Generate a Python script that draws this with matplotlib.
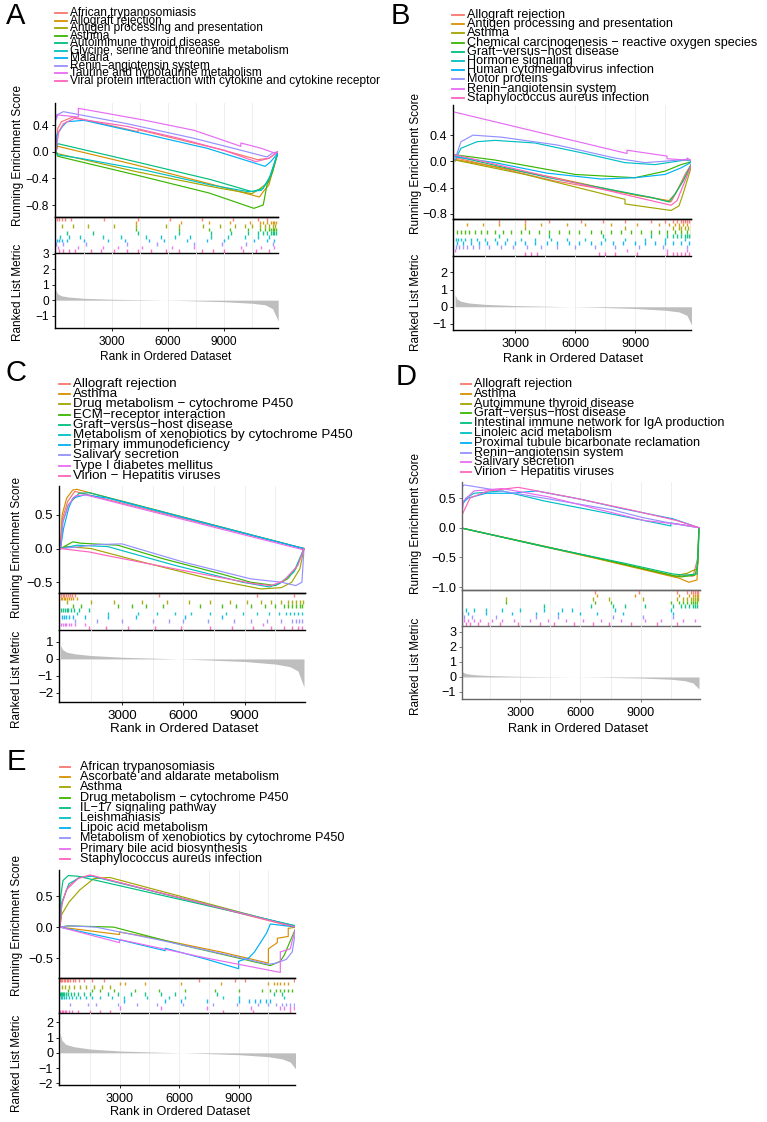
import numpy as np
import matplotlib
matplotlib.use("Agg")
from matplotlib import pyplot as plt
from matplotlib.lines import Line2D

plt.rcParams['font.family'] = ['Liberation Sans', 'DejaVu Sans']

W, H = 767, 1122
colors = ["#F8766D", "#D89000", "#A3A500", "#39B600", "#00BF7D",
          "#00BFC4", "#00B0F6", "#9590FF", "#E76BF3", "#FF62BC"]

# ---------------- panel A ----------------
terms_A = ["African trypanosomiasis", "Allograft rejection",
           "Antigen processing and presentation", "Asthma",
           "Autoimmune thyroid disease",
           "Glycine, serine and threonine metabolism", "Malaria",
           "Renin\u2212angiotensin system", "Taurine and hypotaurine metabolism",
           "Viral protein interaction with cytokine and cytokine receptor"]
es_A = [
    [(0, 0), (100, 0.35), (300, 0.45), (900, 0.52), (4400, 0.3), (4400, 0.33), (9000, 0.02), (10800, -0.12), (11400, -0.1), (11900, 0)],
    [(0, 0), (100, 0.08), (4300, -0.2), (8200, -0.48), (10900, -0.68), (11100, -0.6), (11400, -0.5), (11700, -0.2), (11900, 0)],
    [(0, 0), (100, -0.03), (4300, -0.3), (8800, -0.55), (10500, -0.63), (10900, -0.56), (11400, -0.45), (11900, 0)],
    [(0, 0), (100, -0.07), (4300, -0.35), (8200, -0.62), (10600, -0.85), (11100, -0.8), (11300, -0.5), (11600, -0.3), (11900, 0)],
    [(0, 0), (100, 0.12), (4400, -0.16), (8300, -0.42), (10500, -0.6), (11100, -0.55), (11500, -0.35), (11900, 0)],
    [(0, 0), (100, -0.05), (1300, -0.1), (4800, -0.28), (8300, -0.5), (10300, -0.6), (11000, -0.58), (11400, -0.42), (11900, 0)],
    [(0, 0), (50, 0.25), (350, 0.38), (600, 0.45), (1500, 0.47), (5000, 0.25), (8100, 0.05), (11200, -0.22), (11500, -0.15), (11800, -0.05), (11900, 0)],
    [(0, 0.5), (30, 0.55), (400, 0.6), (3800, 0.42), (7400, 0.2), (10200, 0.0), (11300, -0.08), (11600, -0.02), (11900, 0)],
    [(0, 0.48), (100, 0.55), (1200, 0.52), (1200, 0.65), (4600, 0.48), (7400, 0.32), (9900, 0.08), (9900, 0.13), (11000, 0.05), (11700, -0.02), (11900, 0)],
    [(0, 0), (150, 0.3), (400, 0.42), (1000, 0.5), (3800, 0.38), (6600, 0.2), (9000, 0.02), (10000, -0.08), (10700, -0.15), (11400, -0.1), (11900, 0)],
]
hits_A = [
    [60, 150, 300, 500, 800, 2600, 4400, 6100, 7800, 9500, 10800, 11300],
    [4300, 6700, 8200, 9300, 10400, 10900, 11100, 11300, 11500, 11600, 11700, 11800],
    [300, 900, 1700, 3100, 4300, 5900, 6600, 7900, 8800, 9600, 10100, 10500, 10900, 11200, 11400, 11600, 11750],
    [4300, 6600, 8200, 9300, 10300, 10900, 11200, 11400, 11500, 11600, 11700, 11800],
    [600, 2000, 4400, 6600, 8300, 9400, 10300, 10800, 11100, 11300, 11500, 11600, 11700, 11800],
    [200, 700, 1300, 2500, 3500, 4800, 5600, 6400, 7200, 8300, 9200, 10100, 10800, 11400],
    [50, 150, 350, 600, 1500, 2800, 3700, 5000, 5800, 7000, 8100, 9000, 10600, 11300, 11700],
    [30, 400, 1600, 3800, 5400, 7400, 8900, 10200, 11600],
    [100, 1200, 2500, 3300, 4600, 6200, 7400, 9900, 11000, 11700],
    [150, 400, 700, 1000, 1900, 2400, 3100, 3800, 4400, 5100, 5900, 6600, 7800, 8400, 9000, 10000, 10700, 11400],
]

# ---------------- panel B ----------------
terms_B = ["Allograft rejection", "Antigen processing and presentation", "Asthma",
           "Chemical carcinogenesis \u2212 reactive oxygen species",
           "Graft\u2212versus\u2212host disease", "Hormone signaling",
           "Human cytomegalovirus infection", "Motor proteins",
           "Renin\u2212angiotensin system", "Staphylococcus aureus infection"]
es_B = [
    [(0, 0), (100, 0.05), (5000, -0.3), (9800, -0.55), (10800, -0.62), (11100, -0.45), (11500, -0.2), (11900, 0)],
    [(0, 0.03), (5000, -0.25), (9100, -0.52), (10700, -0.6), (11000, -0.5), (11400, -0.3), (11900, 0)],
    [(0, 0.02), (3500, -0.2), (8500, -0.58), (8500, -0.65), (10800, -0.75), (11200, -0.68), (11400, -0.5), (11900, 0)],
    [(0, 0.1), (2000, 0.02), (6000, -0.2), (9000, -0.25), (10500, -0.15), (11300, -0.05), (11900, 0)],
    [(0, 0.08), (4700, -0.25), (9800, -0.55), (10700, -0.62), (11000, -0.5), (11400, -0.3), (11900, 0)],
    [(0, 0.02), (300, 0.2), (1100, 0.3), (2000, 0.32), (4000, 0.28), (6500, 0.12), (8500, -0.02), (10000, -0.05), (11500, 0.02), (11900, 0)],
    [(0, 0.07), (2000, -0.02), (4600, -0.18), (7300, -0.27), (9000, -0.25), (10500, -0.2), (11300, -0.1), (11900, 0)],
    [(0, 0.03), (300, 0.3), (900, 0.4), (2300, 0.37), (5100, 0.25), (8000, 0.05), (9500, -0.02), (10400, 0.0), (11600, 0.03), (11900, 0)],
    [(0, 0.75), (8600, 0.12), (8600, 0.17), (10600, 0.08), (10600, 0.04), (11600, 0.02), (11600, 0.05), (11900, 0)],
    [(0, 0.1), (3500, -0.15), (9100, -0.55), (10800, -0.67), (11100, -0.6), (11500, -0.3), (11900, 0)],
]
hits_B = [
    [2200, 3500, 4700, 6300, 7400, 8500, 9800, 10500, 10900, 11100, 11300, 11400, 11500, 11600, 11700, 11800],
    [600, 1400, 2200, 3500, 4300, 5600, 6500, 7800, 9100, 10200, 10700, 11000, 11200, 11400, 11600, 11800],
    [3500, 8500, 10900, 11200, 11300, 11500, 11650, 11800],
    [100, 300, 500, 700, 1000, 1300, 1600, 2000, 2400, 2800, 3300, 3700, 4200, 4700, 5200, 5700, 6200, 6800, 7300, 7800, 8300, 8800, 9300, 9800, 10200, 10600, 11000, 11300, 11600, 11800],
    [2200, 4700, 7400, 9800, 10600, 10900, 11100, 11300, 11500, 11600, 11700, 11800],
    [50, 150, 300, 500, 800, 1100, 1500, 2000, 2600, 3300, 4000, 4800, 5600, 6500, 7500, 8500, 9500, 10500, 11500],
    [100, 400, 800, 1200, 1600, 2100, 2500, 3000, 3500, 4000, 4600, 5100, 5700, 6200, 6800, 7300, 7900, 8400, 9000, 9500, 10000, 10500, 10900, 11300, 11700],
    [50, 200, 400, 600, 900, 1200, 1700, 2300, 2900, 3600, 4300, 5100, 6000, 7000, 8000, 9200, 10400, 11600],
    [20, 8600, 10600, 11600],
    [3500, 3800, 4100, 7200, 7500, 8000, 9100, 10600, 10900, 11100, 11300, 11500, 11700, 11850],
]

# ---------------- panel C ----------------
terms_C = ["Allograft rejection", "Asthma", "Drug metabolism \u2212 cytochrome P450",
           "ECM\u2212receptor interaction", "Graft\u2212versus\u2212host disease",
           "Metabolism of xenobiotics by cytochrome P450",
           "Primary immunodeficiency", "Salivary secretion",
           "Type I diabetes mellitus", "Virion \u2212 Hepatitis viruses"]
es_C = [
    [(0, 0), (100, 0.45), (350, 0.7), (700, 0.85), (11900, 0)],
    [(0, 0), (80, 0.5), (300, 0.75), (600, 0.87), (800, 0.88), (11900, 0)],
    [(0, 0), (300, 0.03), (1500, 0.0), (4000, -0.2), (7300, -0.45), (9800, -0.6), (10800, -0.58), (11300, -0.5), (11700, -0.3), (11900, 0)],
    [(0, 0), (600, 0.1), (1000, 0.08), (2800, 0.05), (5000, -0.15), (7900, -0.38), (9300, -0.5), (10500, -0.55), (11100, -0.45), (11500, -0.3), (11900, 0)],
    [(0, 0), (120, 0.4), (380, 0.65), (900, 0.82), (1400, 0.83), (11900, 0)],
    [(0, 0), (800, 0.05), (2300, 0.03), (5600, -0.25), (8900, -0.5), (10200, -0.57), (10700, -0.52), (11400, -0.35), (11900, 0)],
    [(0, 0), (150, 0.3), (400, 0.6), (600, 0.75), (1200, 0.8), (2300, 0.75), (11900, 0)],
    [(0, 0), (700, 0.02), (1800, 0.06), (3000, 0.07), (6000, -0.2), (9300, -0.45), (10800, -0.5), (11500, -0.55), (11800, -0.5), (11900, 0)],
    [(0, 0), (110, 0.4), (400, 0.65), (700, 0.78), (1200, 0.8), (11900, -0.02)],
    [(0, 0), (1400, -0.05), (2200, -0.1), (5900, -0.32), (9400, -0.52), (10300, -0.55), (10900, -0.48), (11600, -0.25), (11900, 0)],
]
hits_C = [
    [30, 100, 180, 250, 350, 450, 550, 700, 4800, 9600, 11400],
    [20, 80, 150, 220, 300, 400, 500, 600, 800],
    [300, 1500, 2600, 4000, 5200, 6300, 7300, 8300, 9100, 9800, 10300, 10800, 11100, 11300, 11500, 11700, 11850],
    [600, 1000, 2800, 3500, 4200, 5000, 6800, 7900, 8600, 9300, 10000, 10500, 10900, 11100, 11300, 11500, 11700, 11800],
    [40, 120, 200, 300, 380, 500, 650, 900, 1400],
    [800, 2300, 3800, 4700, 5600, 6400, 7300, 8100, 8900, 9600, 10200, 10700, 11000, 11200, 11400, 11600, 11800],
    [50, 150, 260, 400, 600, 1200, 2300, 3700, 6100, 7900],
    [700, 1800, 3000, 4500, 5300, 6000, 7200, 8500, 9300, 10100, 10800, 11300, 11500, 11650, 11800],
    [30, 110, 200, 290, 400, 520, 700, 1200, 9900],
    [1400, 2200, 3300, 4600, 5900, 7300, 8400, 9400, 10300, 10900, 11300, 11600, 11800],
]

# ---------------- panel D ----------------
terms_D = ["Allograft rejection", "Asthma", "Autoimmune thyroid disease",
           "Graft\u2212versus\u2212host disease",
           "Intestinal immune network for IgA production",
           "Linoleic acid metabolism", "Proximal tubule bicarbonate reclamation",
           "Renin\u2212angiotensin system", "Salivary secretion",
           "Virion \u2212 Hepatitis viruses"]
es_D = [
    [(0, 0), (6700, -0.5), (10800, -0.83), (11300, -0.8), (11600, -0.82), (11850, -0.5), (11900, 0)],
    [(0, 0), (6800, -0.52), (10900, -0.85), (11400, -0.92), (11800, -0.88), (11850, -0.5), (11900, 0)],
    [(0, 0), (6600, -0.5), (10800, -0.82), (11100, -0.78), (11300, -0.77), (11600, -0.72), (11800, -0.7), (11900, 0)],
    [(0, 0), (6700, -0.5), (10500, -0.8), (11000, -0.83), (11700, -0.8), (11850, -0.6), (11900, 0)],
    [(0, 0), (4200, -0.32), (8200, -0.6), (10600, -0.78), (11200, -0.8), (11800, -0.78), (11900, 0)],
    [(0, 0), (60, 0.35), (300, 0.5), (700, 0.58), (2100, 0.62), (4200, 0.45), (7700, 0.22), (10500, 0.03), (10500, 0.08), (11900, 0)],
    [(0, 0), (100, 0.4), (400, 0.5), (1300, 0.58), (2600, 0.58), (3800, 0.62), (6000, 0.48), (8100, 0.32), (10600, 0.15), (11900, 0)],
    [(0, 0.65), (200, 0.72), (600, 0.7), (3800, 0.52), (7600, 0.3), (9100, 0.17), (10600, 0.07), (11900, 0)],
    [(0, 0), (180, 0.45), (700, 0.62), (2100, 0.66), (4400, 0.52), (7000, 0.3), (9200, 0.12), (11100, 0.05), (11900, 0)],
    [(0, 0), (80, 0.2), (500, 0.5), (1400, 0.62), (2900, 0.68), (5700, 0.5), (8500, 0.3), (10800, 0.12), (11900, 0)],
]
hits_D = [
    [6700, 8900, 10800, 11300, 11500, 11600, 11700, 11800, 11850],
    [6800, 8700, 10900, 11400, 11600, 11700, 11800, 11850],
    [2300, 6600, 7400, 9100, 10800, 11100, 11300, 11500, 11600, 11700, 11800, 11850],
    [2300, 6700, 7500, 10500, 10900, 11100, 11300, 11500, 11600, 11700, 11800],
    [4200, 6500, 7600, 8200, 9200, 10600, 11000, 11200, 11400, 11600, 11700, 11800],
    [60, 300, 700, 1300, 2100, 3000, 4200, 5100, 5600, 7700, 10500],
    [100, 400, 1300, 2600, 3800, 4900, 6000, 6800, 8100, 10600],
    [20, 200, 600, 1800, 3800, 4900, 7600, 9100, 10600],
    [50, 180, 400, 700, 1000, 1600, 2100, 2700, 3500, 4400, 5300, 6100, 7000, 8000, 9200, 10000, 11100, 11700],
    [80, 300, 500, 900, 1400, 2000, 2900, 4000, 4700, 5700, 6600, 7400, 8500, 9800, 10800],
]

# ---------------- panel E ----------------
terms_E = ["African trypanosomiasis", "Ascorbate and aldarate metabolism", "Asthma",
           "Drug metabolism \u2212 cytochrome P450", "IL\u221217 signaling pathway",
           "Leishmaniasis", "Lipoic acid metabolism",
           "Metabolism of xenobiotics by cytochrome P450",
           "Primary bile acid biosynthesis", "Staphylococcus aureus infection"]
es_E = [
    [(0, 0), (100, 0.4), (400, 0.65), (950, 0.8), (1600, 0.83), (11800, 0.0), (11900, 0)],
    [(0, 0), (3000, -0.12), (3000, -0.08), (4300, -0.15), (8100, -0.4), (10500, -0.58), (10500, -0.35), (10950, -0.25), (10950, -0.18), (11500, -0.15), (11500, -0.02), (11900, 0)],
    [(0, 0), (80, 0.2), (450, 0.4), (1000, 0.6), (1700, 0.78), (2500, 0.8), (11900, 0)],
    [(0, 0), (400, 0.02), (2700, 0.0), (6300, -0.3), (9000, -0.5), (10600, -0.62), (11100, -0.55), (11300, -0.45), (11500, -0.3), (11900, 0)],
    [(0, 0), (40, 0.5), (150, 0.75), (420, 0.83), (900, 0.82), (11900, 0.02)],
    [(0, 0), (100, 0.4), (450, 0.7), (1000, 0.8), (1600, 0.82), (11800, 0.02), (11900, 0)],
    [(0, 0), (3200, -0.22), (5300, -0.38), (5300, -0.34), (7400, -0.52), (9000, -0.67), (9000, -0.55), (9500, -0.5), (9800, -0.4), (10100, -0.25), (10400, -0.1), (10600, 0.05), (11900, 0)],
    [(0, 0), (500, 0.02), (1800, 0.0), (4900, -0.2), (8900, -0.48), (10500, -0.6), (10900, -0.58), (11400, -0.52), (11700, -0.4), (11900, 0)],
    [(0, 0), (3000, -0.25), (3000, -0.2), (7400, -0.5), (11100, -0.73), (11100, -0.4), (11600, -0.35), (11800, -0.1), (11900, 0)],
    [(0, 0), (80, 0.35), (320, 0.6), (900, 0.78), (1500, 0.84), (11900, 0)],
]
hits_E = [
    [20, 60, 120, 180, 250, 330, 420, 520, 640, 780, 950, 1200, 1600, 2200, 7000, 8800, 9300, 11800],
    [3000, 3300, 4300, 6100, 8100, 10500, 10800, 10950, 11100, 11300, 11500],
    [80, 250, 450, 700, 1000, 1300, 1700, 2100, 2500],
    [400, 1600, 2000, 2700, 3800, 5000, 6300, 7800, 9000, 10200, 10600, 10900, 11100, 11300, 11500, 11700],
    [10, 40, 80, 150, 220, 300, 420, 560, 700, 900, 1200, 1500, 2400, 2900, 3600, 4300, 5100, 5800, 7900, 10800, 11200],
    [30, 100, 200, 300, 450, 600, 800, 1000, 1300, 1600, 2000, 2600, 3200, 4400, 5500, 6300, 8200, 9000, 11300],
    [3200, 5300, 6100, 7400, 9000, 9500, 9800, 10100, 10400, 10600],
    [500, 1400, 1800, 2900, 3900, 4900, 6200, 7700, 8900, 10000, 10500, 10900, 11200, 11400, 11600, 11800],
    [3000, 5100, 7400, 9600, 11100, 11300, 11600, 11800],
    [20, 80, 150, 230, 320, 450, 600, 900, 1500, 2000, 2500, 8200, 9700, 11600],
]

rank_x = [0, 100, 300, 700, 1500, 3000, 5000, 7000, 9000, 10500, 11200, 11600, 11900]
metric_A = [0.65, 0.4, 0.28, 0.2, 0.12, 0.06, 0.02, -0.03, -0.1, -0.2, -0.3, -0.55, -1.35]
metric_B = [0.7, 0.45, 0.32, 0.22, 0.14, 0.07, 0.02, -0.03, -0.1, -0.2, -0.3, -0.5, -1.25]
metric_C = [0.8, 0.55, 0.4, 0.3, 0.2, 0.1, 0.03, -0.05, -0.15, -0.3, -0.45, -0.7, -1.65]
metric_D = [0.65, 0.35, 0.22, 0.15, 0.09, 0.04, 0.01, -0.02, -0.07, -0.15, -0.25, -0.4, -0.8]
metric_E = [1.3, 0.8, 0.55, 0.4, 0.25, 0.12, 0.04, -0.03, -0.12, -0.25, -0.4, -0.6, -1.1]

fig = plt.figure(figsize=(W / 100, H / 100), dpi=100)


def box(l, t, r, b):
    return fig.add_axes([l / W, 1 - b / H, (r - l) / W, (b - t) / H])


def fx(x):
    return x / W


def fy(y):
    return 1 - y / H


def tick_text(v, nd):
    s = f"{abs(v):.{nd}f}"
    return ("\u2212" + s) if v < 0 else s


def gsea_panel(letter, terms, es, hits, metric, lay):
    sc = lay.get("spine", "black")
    fs = lay["fs"]
    yfs = lay["yfs"]
    # panel letter
    fig.text(fx(lay["lab"][0]), fy(lay["lab"][1]), letter, fontsize=21,
             ha="center", va="center")
    # legend
    hx0, hx1, tx = lay["leg_x"]
    for i, name in enumerate(terms):
        yy = lay["leg_y"] + i * lay["leg_dy"]
        fig.add_artist(Line2D([fx(hx0), fx(hx1)], [fy(yy), fy(yy)],
                              color=colors[i], lw=1.3,
                              transform=fig.transFigure))
        fig.text(fx(tx), fy(yy), name, fontsize=fs, va="center", ha="left")

    l, r = lay["left"], lay["right"]
    t, b1, b2, b3 = lay["top"], lay["es_bot"], lay["rug_bot"], lay["rank_bot"]
    grid = np.arange(1500, 12000, 1500)

    # running enrichment score
    ax1 = box(l, t, r, b1)
    for g in grid:
        ax1.axvline(g, color="#ebebeb", lw=0.6, zorder=0)
    for i, pts in enumerate(es):
        xs = [p[0] for p in pts]
        ys = [p[1] for p in pts]
        ax1.plot(xs, ys, color=colors[i], lw=0.85)
    ax1.set_xlim(lay["xlim"])
    ax1.set_ylim(lay["es_ylim"])
    ax1.set_xticks([])
    ax1.set_yticks(lay["es_ticks"])
    ax1.set_yticklabels([tick_text(v, 1) for v in lay["es_ticks"]])

    # hits rug
    ax2 = box(l, b1, r, b2)
    for g in grid:
        ax2.axvline(g, color="#ebebeb", lw=0.6, zorder=0)
    n = len(hits)
    for i, h in enumerate(hits):
        ax2.vlines(h, n - 1 - i, n - i, color=colors[i], lw=1.0, alpha=0.9)
    ax2.set_xlim(lay["xlim"])
    ax2.set_ylim(0, n)
    ax2.set_xticks([])
    ax2.set_yticks([])

    # ranked list metric
    ax3 = box(l, b2, r, b3)
    for g in grid:
        ax3.axvline(g, color="#ebebeb", lw=0.6, zorder=0)
    ax3.fill_between(rank_x, metric, 0, color="#bebebe", lw=0)
    ax3.set_xlim(lay["xlim"])
    ax3.set_ylim(lay["rk_ylim"])
    ax3.set_xticks([3000, 6000, 9000])
    ax3.set_xticklabels(["3000", "6000", "9000"])
    ax3.set_yticks(lay["rk_ticks"])
    ax3.set_yticklabels([tick_text(v, 0) for v in lay["rk_ticks"]])

    for ax in (ax1, ax2, ax3):
        for s in ("top", "right"):
            ax.spines[s].set_visible(False)
        for s in ("left", "bottom"):
            ax.spines[s].set_color(sc)
            ax.spines[s].set_linewidth(1.0)
        ax.tick_params(labelsize=fs, length=2.5, width=0.6, pad=1.8,
                       color=sc, labelcolor="black")
        ax.patch.set_alpha(0)
    ax3.tick_params(axis="x", pad=3.5)
    ax2.spines["top"].set_visible(True)
    ax2.spines["top"].set_color(sc)
    ax2.spines["top"].set_linewidth(1.0)

    # axis titles
    ylx = lay["ylab_x"]
    fig.text(fx(ylx), fy(lay["es_lab_y"]), "Running Enrichment Score",
             rotation=90, fontsize=yfs, ha="center", va="center")
    fig.text(fx(ylx), fy(lay["rk_lab_y"]), "Ranked List Metric",
             rotation=90, fontsize=yfs, ha="center", va="center")
    fig.text(fx(lay["xlab"][0]), fy(lay["xlab"][1]), "Rank in Ordered Dataset",
             fontsize=fs, ha="center", va="center")


lay_A = dict(lab=(16, 16), leg_x=(55, 67, 70), leg_y=13, leg_dy=7.55, fs=8.6, yfs=8.5,
             left=55, right=278, top=103, es_bot=217, rug_bot=253, rank_bot=328,
             xlim=(-50, 11890), es_ylim=(-0.98, 0.73), es_ticks=[0.4, 0.0, -0.4, -0.8],
             rk_ylim=(-1.8, 3.05), rk_ticks=[3, 2, 1, 0, -1], ylab_x=18,
             es_lab_y=156, rk_lab_y=292, xlab=(166, 357))
lay_B = dict(lab=(400, 16), leg_x=(452, 464, 467), leg_y=15, leg_dy=9.2, fs=9.1, yfs=8.5,
             left=453, right=691, top=105, es_bot=219, rug_bot=256, rank_bot=330,
             xlim=(-100, 11800), es_ylim=(-0.88, 0.86), es_ticks=[0.4, 0.0, -0.4, -0.8],
             rk_ylim=(-1.35, 2.95), rk_ticks=[2, 1, 0, -1], ylab_x=416,
             es_lab_y=163, rk_lab_y=302, xlab=(573, 359))
lay_C = dict(lab=(16, 373), leg_x=(59, 70, 73), leg_y=384, leg_dy=10.2, fs=9.6, yfs=8.5,
             left=59, right=305, top=486, es_bot=593, rug_bot=630, rank_bot=702,
             xlim=(-73, 11950), es_ylim=(-0.66, 0.93), es_ticks=[0.5, 0.0, -0.5],
             rk_ylim=(-2.53, 1.7), rk_ticks=[1, 0, -1, -2], ylab_x=17,
             es_lab_y=548, rk_lab_y=679, xlab=(184, 729))
lay_D = dict(lab=(406, 377), leg_x=(461, 471, 474), leg_y=384, leg_dy=9.8, fs=9.1, yfs=8.5,
             left=462, right=700, top=482, es_bot=590, rug_bot=626, rank_bot=699,
             xlim=(100, 11950), es_ylim=(-1.05, 0.77), es_ticks=[0.5, 0.0, -0.5, -1.0],
             rk_ylim=(-1.47, 3.4), rk_ticks=[3, 2, 1, 0, -1], ylab_x=416, spine="#666666",
             es_lab_y=524, rk_lab_y=666, xlab=(578, 729))
lay_E = dict(lab=(16, 762), leg_x=(60, 70, 80), leg_y=767, leg_dy=10.2, fs=9.1, yfs=8.5,
             left=59, right=295, top=870, es_bot=978, rug_bot=1013, rank_bot=1085,
             xlim=(-50, 11840), es_ylim=(-0.82, 0.92), es_ticks=[0.5, 0.0, -0.5],
             rk_ylim=(-2.1, 2.6), rk_ticks=[2, 1, 0, -1, -2], ylab_x=17,
             es_lab_y=925, rk_lab_y=1063, xlab=(180, 1112))

gsea_panel("A", terms_A, es_A, hits_A, metric_A, lay_A)
gsea_panel("B", terms_B, es_B, hits_B, metric_B, lay_B)
gsea_panel("C", terms_C, es_C, hits_C, metric_C, lay_C)
gsea_panel("D", terms_D, es_D, hits_D, metric_D, lay_D)
gsea_panel("E", terms_E, es_E, hits_E, metric_E, lay_E)

fig.savefig("out.png", dpi=100)
